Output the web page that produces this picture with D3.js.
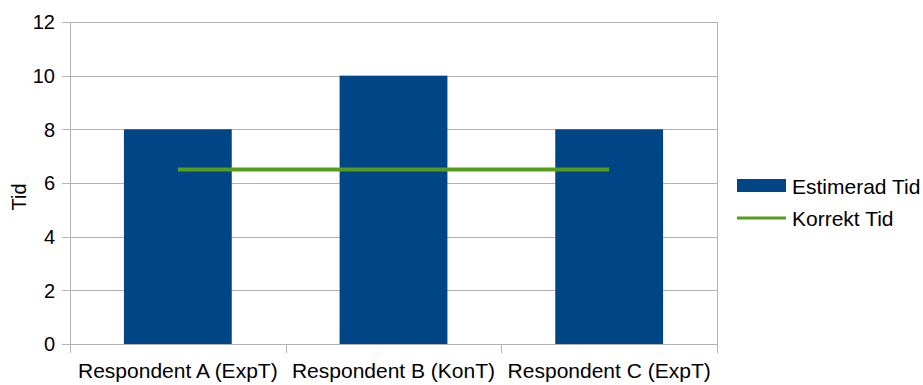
<!DOCTYPE html>
<html>
<head>
<meta charset="utf-8">
<script src="https://cdn.jsdelivr.net/npm/d3@7"></script>
<style>
  html, body { margin: 0; padding: 0; background: #fff; }
  svg { display: block; font-family: "Liberation Sans", Arial, sans-serif; }
</style>
</head>
<body>
<svg id="chart" width="923" height="385"></svg>
<script>
// Categories, series values and tick labels
const categories = ["Respondent A (ExpT)", "Respondent B (KonT)", "Respondent C (ExpT)"];
const estimeradTid = [8, 10, 8];
const korrektTid = [6.5, 6.5, 6.5];
const yTicks = [0, 2, 4, 6, 8, 10, 12];
const seriesNames = ["Estimerad Tid", "Korrekt Tid"];

const svg = d3.select("#chart");
const margin = { left: 70, right: 206, top: 22, bottom: 41 };
const W = 923, H = 385;
const plotW = W - margin.left - margin.right;
const plotH = H - margin.top - margin.bottom;
const fontSize = 20;
const labelSize = 21;

const x = d3.scaleBand().domain(categories).range([margin.left, margin.left + plotW]).paddingInner(0.5).paddingOuter(0.25);
const xOuter = d3.scaleBand().domain(categories).range([margin.left, margin.left + plotW]);
const y = d3.scaleLinear().domain([0, 12]).range([margin.top + plotH, margin.top]);

const gridColor = "#b3b3b3";
const barColor = "#004586";
const lineColor = "#579d1c";

// Horizontal gridlines with small ticks to the left of the axis
svg.append("g").selectAll("line").data(yTicks).join("line")
  .attr("x1", margin.left - 8).attr("x2", margin.left + plotW)
  .attr("y1", d => Math.round(y(d)) + 0.5).attr("y2", d => Math.round(y(d)) + 0.5)
  .attr("stroke", gridColor).attr("stroke-width", 1);

// Vertical axis line and right border
svg.append("line")
  .attr("x1", margin.left + 0.5).attr("x2", margin.left + 0.5)
  .attr("y1", margin.top).attr("y2", margin.top + plotH + 9)
  .attr("stroke", gridColor);
svg.append("line")
  .attr("x1", margin.left + plotW + 0.5).attr("x2", margin.left + plotW + 0.5)
  .attr("y1", margin.top).attr("y2", margin.top + plotH + 9)
  .attr("stroke", gridColor);

// Category separators on the x axis
svg.append("g").selectAll("line").data(categories.slice(1)).join("line")
  .attr("x1", d => Math.round(xOuter(d)) + 0.5).attr("x2", d => Math.round(xOuter(d)) + 0.5)
  .attr("y1", margin.top + plotH).attr("y2", margin.top + plotH + 9)
  .attr("stroke", gridColor);

// Y tick labels
svg.append("g").selectAll("text").data(yTicks).join("text")
  .attr("x", 55).attr("y", d => y(d))
  .attr("dy", "0.36em")
  .attr("text-anchor", "end")
  .attr("font-size", fontSize).attr("fill", "#000")
  .text(d => d);

// Y axis title
svg.append("text")
  .attr("transform", "translate(26, 197) rotate(-90)")
  .attr("text-anchor", "middle")
  .attr("font-size", fontSize).attr("fill", "#000")
  .text("Tid");

// Bars
svg.append("g").selectAll("rect").data(categories).join("rect")
  .attr("x", d => x(d))
  .attr("width", x.bandwidth())
  .attr("y", (d, i) => y(estimeradTid[i]))
  .attr("height", (d, i) => y(0) - y(estimeradTid[i]))
  .attr("fill", barColor);

// Line series through category centres
const line = d3.line()
  .x((d, i) => xOuter(categories[i]) + xOuter.bandwidth() / 2)
  .y(d => y(d));
svg.append("path")
  .datum(korrektTid)
  .attr("d", line)
  .attr("fill", "none")
  .attr("stroke", lineColor)
  .attr("stroke-width", 4);

// Category labels
svg.append("g").selectAll("text").data(categories).join("text")
  .attr("x", d => xOuter(d) + xOuter.bandwidth() / 2)
  .attr("y", 378)
  .attr("text-anchor", "middle")
  .attr("font-size", labelSize).attr("fill", "#000")
  .text(d => d);

// Legend
const legend = svg.append("g");
legend.append("rect")
  .attr("x", 737).attr("y", 179).attr("width", 49).attr("height", 13)
  .attr("fill", barColor);
legend.append("line")
  .attr("x1", 737).attr("x2", 786).attr("y1", 218).attr("y2", 218)
  .attr("stroke", lineColor).attr("stroke-width", 3);
legend.selectAll("text").data(seriesNames).join("text")
  .attr("x", 792)
  .attr("y", (d, i) => 186 + i * 32)
  .attr("dy", "0.36em")
  .attr("font-size", labelSize).attr("fill", "#000")
  .text(d => d);
</script>
</body>
</html>
